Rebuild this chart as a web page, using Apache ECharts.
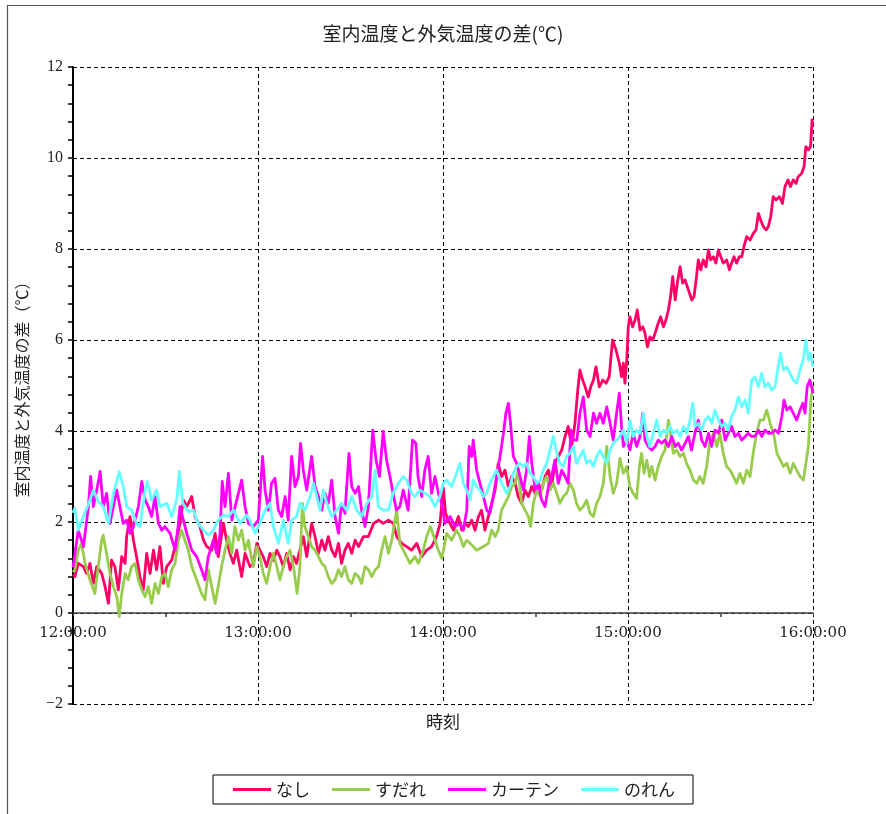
<!DOCTYPE html>
<html>
<head>
<meta charset="utf-8">
<script src="https://cdn.jsdelivr.net/npm/echarts@6/dist/echarts.min.js"></script>
<style>html,body{margin:0;padding:0;background:#fff}#c{width:886px;height:814px}</style>
</head>
<body>
<div id="c"></div>
<script>
// minutes after 12:00 -> value (℃)
const nashi = [[0,0.85],[0.6,0.80],[1.7,1.09],[3.4,1.02],[4.4,0.87],[5.5,1.09],[6.6,0.65],[7.7,1.02],[9.3,0.87],[10.4,0.58],[11.5,0.21],[12.5,1.16],[13.6,1.02],[14.7,0.51],[15.8,1.24],[16.9,1.09],[17.4,1.68],[18.5,2.12],[19.6,1.60],[20.6,1.24],[21.7,0.80],[22.8,0.51],[23.9,1.31],[25.0,0.87],[26.1,1.38],[27.1,0.95],[28.2,1.46],[29.3,0.65],[30.4,1.02],[32.0,1.16],[33.1,1.46],[34.7,1.97],[35.8,2.48],[36.9,2.34],[38.5,2.56],[39.6,2.12],[41.2,1.90],[42.3,1.60],[43.4,1.46],[45.0,1.38],[46.1,1.75],[47.1,1.24],[48.8,1.97],[49.8,1.60],[50.9,1.31],[52.0,1.09],[53.1,1.38],[54.7,0.80],[55.8,1.31],[57.4,1.02],
[58.5,1.09],[59.6,1.53],[60.6,1.38],[61.7,1.24],[62.8,1.02],[63.9,1.31],[65.0,1.16],[66.1,1.38],[67.1,1.24],[68.2,1.02],[69.3,1.31],[70.4,0.95],[71.5,1.24],[72.5,1.09],[73.6,1.38],[74.7,1.68],[75.8,1.24],[77.4,1.97],[78.5,1.68],[79.6,1.31],[80.7,1.60],[81.7,1.38],[82.8,1.68],[83.9,1.38],[85.0,1.24],[86.1,1.53],[87.1,1.09],[88.2,1.38],[89.3,1.53],[90.4,1.31],[91.5,1.60],[92.6,1.46],[94.2,1.68],[95.8,1.68],[97.5,1.97],[99.1,2.04],[100.6,1.97],[102.3,2.04],[103.9,1.97],[105.0,1.68],[106.6,1.53],[108.2,1.46],[109.8,1.38],[111.5,1.53],[113.1,1.24],[114.7,1.38],[116.3,1.46],[117.9,1.68],[119.0,1.95],[120.1,2.75],[120.8,2.20],[121.7,2.04],[123.4,1.82],[125.0,2.12],[126.1,1.82],[127.1,1.97],[128.2,1.90],[129.3,2.04],[130.4,1.82],[131.5,2.12],[132.5,2.26],[133.6,1.82],[134.7,2.12],[135.8,2.41],[136.9,2.70],[137.9,3.29],[139.0,3.00],[140.1,3.14],[141.2,2.78],[142.3,3.00],[143.4,2.85],[144.4,2.56],[145.5,2.41],[146.6,2.70],[147.7,2.56],[148.8,2.78],[149.9,2.63],[150.9,2.85],[152.0,2.70],[153.1,3.00],[154.2,3.14],[155.2,2.78],[156.3,3.29],[157.4,3.44],[158.5,3.58],[159.6,3.88],[160.6,4.10],[161.7,3.66],[162.8,4.17],[163.7,4.90],[164.4,5.34],[165.3,5.12],[166.1,4.97],[167.1,4.75],[167.9,4.97],[168.8,5.12],[169.6,5.41],[170.7,4.97],[171.8,5.12],[172.9,5.05],[173.9,5.19],[175.0,6.00],[176.1,5.78],[177.2,5.49],
[177.9,5.19],[178.5,5.49],[179.0,5.05],[179.6,5.56],[180.1,6.29],[180.6,6.51],[181.5,6.29],[182.3,6.44],[183.0,6.66],[183.9,6.22],[184.8,6.29],[185.5,6.15],[186.3,5.85],[187.1,6.07],[188.0,6.00],[188.8,6.15],[189.8,6.37],[190.6,6.51],[191.5,6.29],[192.3,6.44],[193.1,6.66],[193.8,6.95],[194.5,7.39],[195.3,6.88],[196.0,7.25],[196.9,7.61],[197.7,7.25],[198.5,7.32],[199.6,7.10],[200.7,6.88],[201.4,6.95],[202.1,7.32],[202.8,7.76],[203.6,7.54],[204.4,7.76],[205.3,7.61],[206.1,7.98],[206.8,7.76],[207.7,7.83],[208.5,7.69],[209.3,7.98],[210.1,7.83],[210.9,7.69],[212.0,7.76],[212.9,7.54],[213.6,7.69],[214.4,7.83],[215.2,7.69],[216.1,7.83],[216.9,7.83],[217.6,8.05],[218.5,8.27],[219.6,8.20],[220.6,8.34],[221.5,8.42],[222.3,8.78],[223.0,8.64],[223.9,8.49],[224.8,8.42],[225.5,8.49],[226.3,8.71],[227.1,9.15],[228.0,9.08],[229.1,9.15],[230.1,9.00],[230.9,9.37],[231.9,9.52],[232.7,9.37],[233.6,9.52],[234.5,9.44],[235.2,9.59],[236.3,9.66],[237.1,9.81],[237.7,10.25],[238.5,10.18],[239.2,10.25],[239.7,10.84],[240,10.69]];

const sudare = [[0,0.90],[0.6,0.95],[1.7,1.38],[2.8,1.53],[3.9,1.09],[5.5,0.73],[7.1,0.43],[8.2,1.02],[9.3,1.60],[9.8,1.71],[10.9,1.31],[12.0,0.87],[13.1,0.58],[14.2,0.36],[15.0,-0.08],[15.8,0.43],[16.9,0.87],[17.9,0.73],[19.0,1.02],[20.1,1.09],[21.2,0.73],[22.3,0.51],[23.4,0.36],[24.4,0.58],[25.5,0.21],[26.6,0.65],[27.7,0.43],[28.8,0.80],[29.8,0.87],[30.9,0.58],[32.0,0.95],[33.1,1.09],[34.2,1.60],[35.2,1.82],[36.3,1.60],[37.4,1.38],[38.5,1.02],[40.1,0.73],[41.7,0.43],[42.8,0.29],[43.9,0.95],[45.0,0.58],[46.1,0.21],[47.1,0.58],[48.2,1.02],[49.3,1.38],[50.4,1.68],[51.5,1.31],[52.5,1.90],[53.6,1.60],[54.7,1.82],[55.8,1.38],[56.9,1.60],
[57.4,1.38],[58.5,1.02],[59.6,1.46],[60.6,1.24],[61.7,0.87],[62.8,0.65],[63.9,1.02],[65.0,1.31],[66.1,1.02],[67.1,0.73],[68.2,1.02],[69.3,1.24],[70.4,1.38],[71.5,1.02],[72.7,0.43],[73.6,1.02],[74.4,2.41],[75.2,1.90],[76.3,1.68],[77.4,1.46],[78.5,1.38],[79.6,1.24],[80.7,1.09],[81.7,1.02],[82.8,0.80],[83.9,0.65],[85.0,0.73],[86.1,0.95],[87.1,0.80],[88.2,1.02],[89.3,0.73],[90.4,0.65],[91.5,0.87],[92.6,0.80],[93.6,0.65],[94.7,1.02],[95.8,0.95],[96.9,0.80],[98.0,0.95],[99.1,1.02],[100.1,1.38],[101.2,1.68],[102.3,1.31],[103.4,1.60],[104.2,1.97],[105.0,2.26],[106.0,1.53],[107.1,1.38],[108.2,1.24],[109.3,1.09],[110.9,1.24],[112.0,1.09],[113.6,1.38],[114.7,1.68],[115.9,1.90],[117.0,1.68],[118.5,1.38],
[119.6,1.20],[121.2,1.75],[122.8,1.60],[124.4,1.82],[125.5,1.68],[126.6,1.46],[127.7,1.60],[128.8,1.53],[129.8,1.46],[130.9,1.38],[133.1,1.46],[134.7,1.53],[135.8,1.82],[136.9,1.68],[137.9,1.82],[139.0,2.26],[140.1,2.41],[141.2,2.56],[142.3,2.78],[143.4,2.85],[144.4,3.14],[145.5,2.41],[146.6,2.26],[147.7,2.12],[148.4,1.90],[149.3,2.41],[150.4,2.70],[151.5,2.56],[152.5,2.85],[153.6,3.00],[154.7,2.70],[155.8,2.85],[156.9,2.63],[157.9,2.41],[159.0,2.56],[160.1,2.63],[161.2,2.85],[162.3,2.70],[163.3,2.41],[164.4,2.26],[165.5,2.34],[166.6,2.48],[167.7,2.19],[168.8,2.12],[169.8,2.41],[170.9,2.56],[172.0,2.85],[173.1,3.66],[174.2,3.00],[175.2,2.63],[176.3,2.85],[177.4,3.40],
[178.5,3.07],[179.6,3.22],[180.6,2.78],[181.7,2.63],[182.8,2.52],[183.7,3.22],[184.4,3.51],[185.2,3.07],[186.1,3.36],[187.0,3.00],[187.7,3.22],[188.8,2.92],[189.8,3.22],[190.9,3.44],[192.0,3.58],[193.1,4.24],[193.8,3.95],[194.7,3.51],[195.8,3.58],[196.9,3.44],[198.0,3.51],[199.0,3.29],[200.1,3.14],[201.2,2.92],[202.3,2.85],[203.3,3.00],[204.4,2.85],[205.5,3.22],[206.6,3.80],[207.7,3.95],[208.8,3.66],[209.8,3.95],[210.9,3.51],[212.0,3.22],[213.1,3.14],[214.2,3.00],[215.2,2.85],[216.3,3.07],[217.4,2.85],[218.5,3.14],[219.6,3.00],[220.6,3.51],[221.7,3.95],[222.8,4.24],[223.9,4.24],[225.0,4.46],[226.1,4.17],[227.2,3.95],[228.3,3.51],[229.4,3.36],[230.4,3.22],[231.5,3.29],[232.6,3.07],[233.6,3.29],[234.7,3.14],[235.8,3.00],[236.9,2.92],[237.7,3.29],[238.5,3.66],[239.3,4.68],[240,5.00]];

const curtain = [[0,1.00],[0.6,1.02],[1.7,1.82],[3.4,1.46],[5.0,2.34],[5.7,3.00],[6.6,2.34],[7.7,2.70],[8.8,3.11],[9.8,2.34],[10.9,2.63],[12.0,1.97],[13.1,2.34],[14.2,2.70],[15.2,2.34],[16.3,1.97],[17.4,2.04],[18.5,1.75],[19.6,1.90],[21.2,2.34],[22.3,2.89],[23.4,2.48],[24.4,2.34],[25.5,2.12],[26.6,2.56],[27.7,1.97],[28.8,1.82],[29.8,1.90],[31.5,1.75],[33.1,1.38],[34.2,1.97],[34.7,2.34],[35.8,2.04],[36.9,1.75],[38.5,1.38],[40.1,1.24],[41.7,0.95],[42.8,0.73],[43.9,1.24],[45.5,1.60],[46.6,1.31],[47.7,1.75],[48.4,2.89],[49.3,2.34],[50.4,3.07],[51.5,2.04],[53.1,2.48],[54.7,2.92],[55.8,2.34],[56.9,1.97],[58.5,1.90],[60.1,2.04],
[61.5,3.44],[62.3,2.70],[63.4,2.26],[64.4,2.85],[65.5,2.96],[66.6,2.26],[67.7,2.12],[68.8,2.56],[69.8,2.04],[70.9,3.44],[72.0,2.78],[73.1,3.00],[73.8,3.73],[74.7,3.14],[75.8,2.70],[77.4,3.44],[78.5,2.78],[79.6,2.56],[80.7,2.26],[81.7,2.63],[82.8,2.41],[83.9,2.92],[85.0,2.12],[86.1,1.75],[87.1,2.41],[88.2,2.19],[89.5,3.51],[90.4,2.78],[91.5,2.63],[92.6,2.78],[93.6,2.26],[94.7,1.90],[95.8,2.34],[97.2,4.02],[98.3,3.36],[99.4,3.00],[100.6,3.99],[101.7,3.36],[102.8,3.00],[103.8,2.63],[104.9,2.26],[106.0,2.34],[107.1,2.70],[108.7,2.26],[110.1,3.80],[111.2,3.73],[111.9,3.00],[113.1,2.56],[114.1,3.14],[115.2,3.44],[116.3,2.63],[117.4,3.00],[118.5,2.63],
[119.6,2.40],[120.6,1.97],[122.3,2.12],[123.9,1.90],[125.5,1.97],[126.6,1.82],[127.7,2.26],[128.5,3.66],[129.3,3.44],[129.8,3.80],[130.9,3.14],[132.0,2.85],[133.1,2.56],[134.2,2.26],[135.2,2.19],[136.3,2.56],[137.4,3.00],[138.5,3.44],[139.6,3.95],[140.4,4.39],[141.2,4.61],[141.9,4.17],[142.8,3.44],[143.9,3.29],[145.0,3.00],[146.1,2.70],[147.1,3.14],[148.0,3.88],[148.8,3.29],[149.9,2.70],[150.9,2.85],[152.0,2.48],[153.1,2.34],[154.2,2.78],[155.2,3.00],[156.3,3.36],[157.4,2.85],[158.5,3.14],[159.6,3.00],[160.6,2.85],[161.5,4.02],[162.3,3.80],[163.4,3.80],[164.4,4.39],[165.5,4.75],[166.6,4.02],[167.7,3.88],[168.8,4.39],[169.8,4.17],[170.9,4.39],[172.0,4.17],[173.1,4.53],[174.2,4.17],[175.2,3.80],[176.3,4.39],[177.2,4.83],
[177.9,4.10],[178.5,3.66],[179.6,3.80],[180.6,3.58],[181.7,3.95],[182.8,3.66],[183.9,3.88],[184.8,4.39],[185.5,3.80],[186.6,3.66],[187.7,3.58],[188.8,3.66],[189.8,3.80],[190.9,3.73],[192.0,3.80],[193.1,3.66],[194.2,3.88],[195.3,3.66],[196.3,3.73],[197.4,3.58],[198.5,3.73],[199.6,3.88],[200.6,3.58],[201.7,3.95],[202.8,4.24],[203.9,3.80],[205.0,3.66],[206.1,3.95],[207.1,3.66],[208.2,4.02],[209.3,3.95],[210.4,4.24],[211.5,3.80],[212.5,3.95],[213.6,4.10],[214.7,3.88],[215.8,3.95],[216.9,3.80],[218.0,3.88],[219.0,3.95],[220.1,3.88],[221.2,3.88],[222.3,4.02],[223.4,3.88],[224.4,4.02],[225.5,3.95],[226.6,3.95],[227.7,4.02],[228.8,3.95],[229.9,4.32],[230.6,4.68],[231.5,4.46],[232.6,4.53],[233.6,4.39],[234.7,4.24],[235.8,4.46],[236.7,4.61],[237.4,4.39],[238.1,4.97],[239.0,5.12],[240,4.83]];

const noren = [[0,2.20],[0.6,2.30],[1.7,1.82],[3.4,2.12],[5.5,2.48],[6.6,2.70],[8.2,2.45],[9.8,2.34],[11.5,1.97],[13.1,2.63],[15.0,3.11],[16.3,2.78],[17.4,2.34],[19.0,2.26],[20.6,1.97],[21.7,1.90],[23.4,2.70],[24.1,2.89],[25.5,2.48],[27.1,2.70],[28.2,2.34],[30.4,2.41],[32.0,2.12],[33.6,2.48],[34.5,3.11],[35.6,2.41],[37.4,2.23],[39.0,2.26],[40.6,1.97],[42.3,1.82],[43.9,1.71],[45.5,1.82],[47.1,2.04],[48.8,2.15],[50.4,2.12],[52.0,2.26],[54.2,1.97],[56.3,2.15],
[57.4,2.04],[59.0,1.75],[60.6,1.97],[62.3,2.26],[63.9,2.41],[65.0,1.90],[66.6,1.53],[68.2,2.04],[69.8,1.53],[70.9,2.04],[72.5,2.12],[73.6,2.41],[75.2,2.26],[76.9,2.56],[78.0,2.85],[79.0,2.56],[80.1,2.26],[81.2,2.70],[82.3,2.41],[83.9,2.12],[85.5,2.26],[87.1,2.41],[88.8,2.26],[90.4,2.56],[92.0,2.26],[93.6,2.12],[95.3,2.41],[96.9,2.56],[98.0,3.14],[99.0,2.34],[100.6,2.26],[102.3,2.26],[103.8,2.63],[105.5,2.85],[107.1,3.00],[108.2,2.92],[109.8,2.63],[110.9,2.56],[112.5,2.70],[114.2,2.63],[115.8,2.56],[117.4,2.34],
[119.0,2.56],[120.1,2.85],[121.2,2.92],[122.8,2.78],[124.4,3.07],[125.5,3.29],[126.6,2.85],[127.7,2.70],[128.8,2.48],[129.8,2.92],[130.9,2.78],[132.0,2.70],[133.1,2.56],[134.2,2.63],[135.2,2.85],[136.3,3.00],[137.4,3.14],[138.5,2.92],[139.6,2.78],[140.6,2.63],[141.7,2.78],[142.8,3.07],[143.9,3.22],[144.9,3.29],[146.0,3.22],[147.1,3.29],[148.2,3.07],[149.3,3.00],[150.4,2.85],[151.5,2.92],[152.5,3.14],[153.6,3.29],[154.7,3.58],[155.8,3.88],[156.9,3.51],[157.9,3.29],[159.0,3.22],[160.1,3.44],[161.2,3.51],[162.3,3.66],[163.3,3.29],[164.4,3.44],[165.5,3.58],[166.6,3.29],[167.7,3.36],[168.8,3.22],[169.8,3.44],[170.9,3.58],[172.0,3.44],[173.1,3.29],[174.2,3.58],[175.2,3.73],[176.3,3.80],
[177.4,3.88],[178.5,4.02],[179.6,3.73],[180.6,4.24],[181.7,3.88],[182.8,4.02],[183.9,3.95],[185.0,4.39],[186.1,3.88],[187.1,3.66],[188.2,3.95],[189.3,4.24],[190.4,3.88],[191.5,4.02],[192.5,3.95],[193.6,4.10],[194.7,3.95],[195.8,4.02],[196.9,3.88],[198.0,4.10],[199.0,3.95],[200.1,4.24],[201.0,4.61],[201.7,4.10],[202.8,4.17],[203.9,4.02],[205.0,4.24],[206.1,4.32],[207.2,4.17],[208.2,4.46],[209.3,4.24],[210.4,4.10],[211.5,4.17],[212.5,4.02],[213.6,4.32],[214.7,4.46],[215.8,4.75],[216.9,4.53],[218.0,4.68],[219.0,4.39],[220.1,5.12],[221.2,5.19],[222.3,4.97],[223.4,5.27],[224.4,4.97],[225.5,5.05],[226.6,4.90],[227.7,4.97],[228.7,5.41],[229.5,5.71],[230.4,5.34],[231.5,5.41],[232.5,5.27],[233.6,5.12],[234.7,5.05],[235.8,5.34],[236.8,5.56],[237.7,6.00],[238.5,5.56],[239.2,5.71],[240,5.41]];

const seriesNames = ['なし', 'すだれ', 'カーテン', 'のれん'];
const seriesData = [nashi, sudare, curtain, noren];
const seriesColors = ['#FF0066', '#99CC4D', '#FF00FF', '#66FFFF'];
const xTickLabels = ['12:00:00', '13:00:00', '14:00:00', '15:00:00', '16:00:00'];

const serif = "'Liberation Serif', 'DejaVu Serif', serif";
const jp = "'Noto Sans CJK JP', sans-serif";

const chart = echarts.init(document.getElementById('c'), null, {renderer: 'canvas'});
chart.setOption({
  animation: false,
  backgroundColor: '#fff',
  graphic: [{
    type: 'rect', z: -10, silent: true,
    shape: {x: 7.5, y: 5.5, width: 1000, height: 1000},
    style: {fill: 'none', stroke: '#555', lineWidth: 1.2}
  }],
  title: {
    text: '室内温度と外気温度の差(℃)',
    left: 'center', top: 24, padding: 0,
    textStyle: {fontFamily: jp, fontSize: 19, fontWeight: 'normal', color: '#222'}
  },
  legend: {
    data: seriesNames,
    left: 213, top: 775,
    orient: 'horizontal',
    borderColor: '#000', borderWidth: 1,
    padding: [6, 18, 6, 20],
    itemWidth: 38, itemHeight: 3, itemGap: 22,
    icon: 'rect',
    textStyle: {fontFamily: jp, fontSize: 17, color: '#222'}
  },
  grid: {left: 73, right: 73, top: 67, bottom: 110, containLabel: false, outerBoundsMode: 'none'},
  xAxis: {
    type: 'value', min: 0, max: 240, interval: 60,
    position: 'bottom', offset: -91,
    name: '時刻', nameLocation: 'middle', nameGap: 100,
    nameTextStyle: {fontFamily: jp, fontSize: 17, color: '#222'},
    axisLine: {show: true, onZero: false, lineStyle: {color: '#404040', width: 1.5}},
    axisTick: {show: true, length: 3, lineStyle: {color: '#404040'}},
    minorTick: {show: true, splitNumber: 2, length: 4, lineStyle: {color: '#404040', width: 1.5}},
    axisLabel: {
      margin: 13,
      fontFamily: "'DejaVu Serif', serif", fontSize: 15, color: '#222',
      formatter: v => xTickLabels[Math.round(v / 60)]
    },
    splitLine: {show: true, lineStyle: {color: '#000', type: [4, 3], width: 1}}
  },
  yAxis: {
    type: 'value', min: -2, max: 12, interval: 2,
    name: '室内温度と外気温度の差（℃）', nameLocation: 'middle', nameGap: 43,
    nameTextStyle: {fontFamily: jp, fontSize: 16, color: '#222'},
    axisLine: {show: true, lineStyle: {color: '#000', width: 2}},
    axisTick: {show: true, length: 5, lineStyle: {color: '#000', width: 1.5}},
    minorTick: {show: true, splitNumber: 5, length: 5, lineStyle: {color: '#000', width: 1.5}},
    axisLabel: {margin: 10, fontFamily: serif, fontSize: 16, color: '#222',
      formatter: v => (v < 0 ? '\u2212' + Math.abs(v) : String(v))},
    splitLine: {show: true, lineStyle: {color: '#000', type: [4, 3], width: 1}}
  },
  series: seriesNames.map((n, i) => ({
    name: n, type: 'line', data: seriesData[i],
    showSymbol: false, symbol: 'none', smooth: false,
    color: seriesColors[i],
    lineStyle: {color: seriesColors[i], width: 2.8, join: 'round'},
    z: 2 + i
  }))
});
</script>
</body>
</html>
